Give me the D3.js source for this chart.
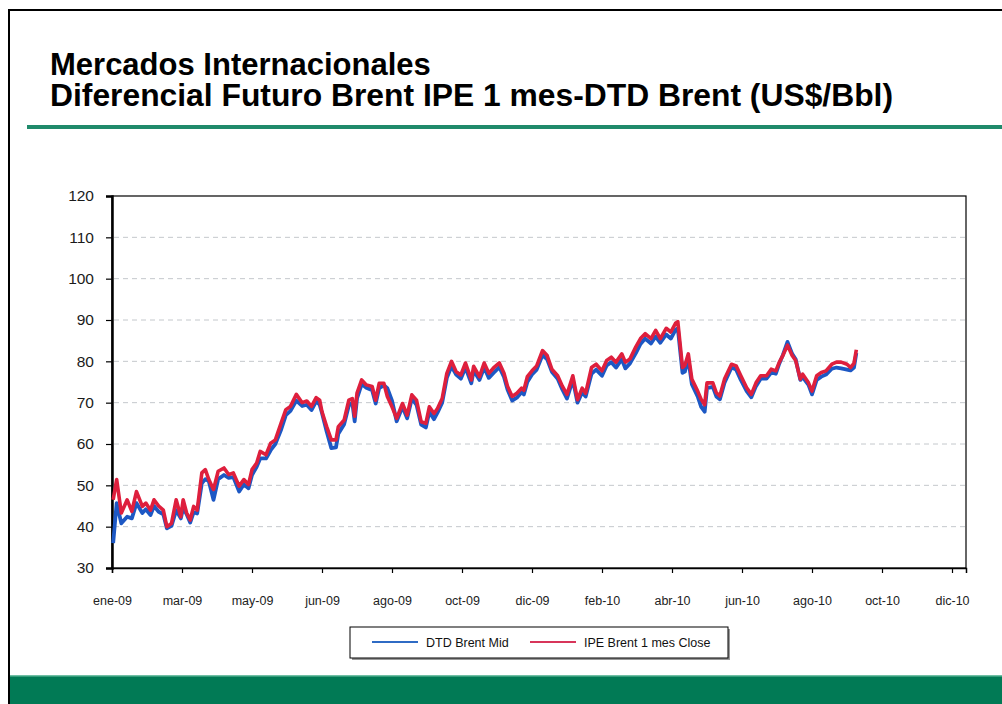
<!DOCTYPE html>
<html>
<head>
<meta charset="utf-8">
<script src="https://cdn.jsdelivr.net/npm/d3@7"></script>
<style>
  body { margin: 0; background: #fff; }
  svg { display: block; font-family: "Liberation Sans", Arial, sans-serif; }
</style>
</head>
<body>
<div id="container"></div>
<script>
//Width and height
var w = 1002;
var h = 704;

//chart data
var dates = ["2009-01-02","2009-01-05","2009-01-09","2009-01-14","2009-01-18","2009-01-22","2009-01-27","2009-01-30",
  "2009-02-03","2009-02-06","2009-02-10","2009-02-14","2009-02-17","2009-02-21","2009-02-25","2009-03-01",
  "2009-03-03","2009-03-06","2009-03-09","2009-03-12","2009-03-15","2009-03-19","2009-03-22","2009-03-25",
  "2009-03-29","2009-04-02","2009-04-07","2009-04-11","2009-04-15","2009-04-20","2009-04-24","2009-04-28",
  "2009-05-01","2009-05-05","2009-05-08","2009-05-13","2009-05-17","2009-05-21","2009-05-26","2009-05-30",
  "2009-06-03","2009-06-08","2009-06-13","2009-06-17","2009-06-21","2009-06-25","2009-06-28","2009-06-30",
  "2009-07-04","2009-07-08","2009-07-12","2009-07-14","2009-07-19","2009-07-23","2009-07-26","2009-07-28",
  "2009-07-30","2009-08-03","2009-08-07","2009-08-12","2009-08-15","2009-08-18","2009-08-22","2009-08-25",
  "2009-08-29","2009-09-02","2009-09-07","2009-09-11","2009-09-15","2009-09-19","2009-09-23","2009-09-27",
  "2009-09-30","2009-10-04","2009-10-07","2009-10-11","2009-10-15","2009-10-19","2009-10-23","2009-10-27",
  "2009-10-31","2009-11-05","2009-11-07","2009-11-12","2009-11-16","2009-11-20","2009-11-24","2009-11-29",
  "2009-12-03","2009-12-06","2009-12-10","2009-12-14","2009-12-18","2009-12-20","2009-12-23","2009-12-27",
  "2009-12-31","2010-01-05","2010-01-09","2010-01-13","2010-01-18","2010-01-22","2010-01-26","2010-01-31",
  "2010-02-04","2010-02-08","2010-02-11","2010-02-16","2010-02-20","2010-02-25","2010-03-01","2010-03-05",
  "2010-03-09","2010-03-14","2010-03-17","2010-03-21","2010-03-26","2010-03-30","2010-04-03","2010-04-08",
  "2010-04-12","2010-04-16","2010-04-21","2010-04-25","2010-04-29","2010-05-01","2010-05-05","2010-05-07",
  "2010-05-10","2010-05-13","2010-05-18","2010-05-21","2010-05-24","2010-05-26","2010-05-31","2010-06-03",
  "2010-06-06","2010-06-10","2010-06-16","2010-06-20","2010-06-24","2010-06-29","2010-07-03","2010-07-07",
  "2010-07-11","2010-07-16","2010-07-20","2010-07-24","2010-07-27","2010-07-30","2010-08-03","2010-08-07",
  "2010-08-10","2010-08-14","2010-08-16","2010-08-21","2010-08-24","2010-08-28","2010-09-01","2010-09-05",
  "2010-09-10","2010-09-14","2010-09-18","2010-09-23","2010-09-26","2010-09-29","2010-10-01"];

var ipeBrent = [46.5,51.4,43.3,46.5,43.7,48.5,44.9,45.7,
  44,46.5,45,44,40,40.8,46.5,42.4,
  46.5,43.3,41.6,44.9,44,53,53.8,51.4,
  49,53.4,54.2,52.6,53,49.8,51.4,50.2,
  53.8,55.4,58.2,57.4,60.2,61,65.1,68.3,
  69.1,72,70,70.4,69.1,71.2,70.6,67.8,
  64.2,61,61,64.2,65.8,70.6,71,66.7,
  72.3,75.5,74.3,73.9,70.6,74.7,74.7,71.5,
  69,66.2,69.8,67,71.9,70.6,65.4,65,
  69,67.4,68.6,71,77.1,80,77.5,76.7,
  79.6,75.5,78.8,76.3,79.6,77.1,78.4,79.6,
  77.1,74,71.5,72.3,73.5,73,76.3,77.7,
  78.9,82.6,81.4,78.1,76.5,74,72,76.5,
  70.7,73.5,72.3,78.5,79.3,77.7,80.2,81,
  79.8,81.8,79.8,80.6,83.5,85.5,86.7,85.5,
  87.5,85.5,88,87.1,89.2,89.6,78.5,79,
  81.8,75.7,72.8,70.8,69.5,74.8,74.8,72.4,
  71.6,75.7,79.3,78.9,76.5,73.6,72,74.8,
  76.5,76.5,78.1,77.7,79.8,81.4,83.9,81.4,
  80.2,75.7,76.9,74.8,72.8,76.5,77.3,77.7,
  79.3,79.8,79.8,79.3,78.5,79.5,82.8];

var dtdBrent = [36,45.7,40.8,42.4,42,45.7,43.3,44.2,
  42.8,45,43.6,43,39.6,40.2,44,42,
  44.5,43,41,43.5,43.2,50.5,51.5,51,
  46.5,51.5,52.5,51.8,52,48.5,50.2,49.3,
  52.5,54.5,56.5,56.5,58.5,60,63.5,67,
  68,70.5,69.2,69.5,68.2,70.3,69.5,67.5,
  63,59,59.2,62.5,64.8,69.3,70,65.5,
  71,74.5,73.6,73,69.8,73.5,74.2,73.5,
  70.5,65.5,69,66.2,71,69.5,64.7,64,
  67.8,66,67.6,70,76,78.8,76.8,75.8,
  78.5,74.7,77.8,75.5,78.5,76,77.2,78.6,
  76.2,73.2,70.5,71.2,72.5,72,75,76.8,
  78,81.5,80.5,77.5,75.8,73.2,71,75.5,
  70,72.5,71.5,77,78,76.5,79,79.8,
  78.5,80.5,78.3,79.5,82,84.2,85.5,84.3,
  86,84.5,86.5,85.5,87.6,88,77.2,77.5,
  80.5,74.5,71.5,69,67.8,73.5,73.8,71.5,
  70.8,74.8,78.5,78,75.5,72.8,71.3,74,
  75.8,75.8,77.3,77,79.5,81.5,84.7,81.8,
  80.5,75.5,76.2,74.3,72,75.5,76.3,76.8,
  78.2,78.5,78.3,78,77.8,78.5,82];

//axis ticks
var yTicks = [30, 40, 50, 60, 70, 80, 90, 100, 110, 120];
var xTickDates = ["2009-01-01","2009-03-02","2009-05-01","2009-06-30","2009-08-29","2009-10-28","2009-12-27",
  "2010-02-25","2010-04-26","2010-06-25","2010-08-24","2010-10-23","2010-12-22"];
var monthNames = ["ene","feb","mar","abr","may","jun","jul","ago","sep","oct","nov","dic"];
var seriesNames = ["DTD Brent Mid", "IPE Brent 1 mes Close"];

var parseDate = d3.timeParse("%Y-%m-%d");
var fmtYear = d3.timeFormat("%y");

var dtdData = dates.map(function(d, i) { return { date: parseDate(d), value: dtdBrent[i] }; });
var ipeData = dates.map(function(d, i) { return { date: parseDate(d), value: ipeBrent[i] }; });

//plot box
var plotL = 112, plotR = 966, plotT = 196, plotB = 568;

var x = d3.scaleTime()
    .domain([parseDate("2009-01-01"), parseDate("2011-01-03")])
    .range([plotL, plotR]);

var y = d3.scaleLinear()
    .domain([30, 120])
    .range([plotB, plotT]);

//create SVG
var svg = d3.select('#container')
    .append('svg')
    .attr('width', w)
    .attr('height', h);

svg.append('rect')
    .attr('width', w)
    .attr('height', h)
    .attr('fill', '#fff');

//page frame (left and top)
svg.append('line')
    .attr('x1', 9).attr('y1', 10).attr('x2', 9).attr('y2', h)
    .attr('stroke', '#000').attr('stroke-width', 2);
svg.append('line')
    .attr('x1', 8).attr('y1', 10).attr('x2', w).attr('y2', 10)
    .attr('stroke', '#000').attr('stroke-width', 2);

//title
svg.append('text')
    .attr('x', 50).attr('y', 75)
    .style('font-size', '31px').style('font-weight', 'bold')
    .attr('fill', '#000')
    .text('Mercados Internacionales');
svg.append('text')
    .attr('x', 50).attr('y', 106)
    .style('font-size', '31px').style('font-weight', 'bold')
    .attr('fill', '#000')
    .attr('textLength', 843)
    .attr('lengthAdjust', 'spacingAndGlyphs')
    .text('Diferencial Futuro Brent IPE 1 mes-DTD Brent (US$/Bbl)');

//green rule under title
svg.append('rect')
    .attr('x', 27).attr('y', 125)
    .attr('width', w - 27).attr('height', 4)
    .attr('fill', '#1f8a6b');

//bottom green band
svg.append('rect')
    .attr('x', 10).attr('y', 676)
    .attr('width', w - 10).attr('height', h - 676)
    .attr('fill', '#017a55');
svg.append('rect')
    .attr('x', 10).attr('y', 675)
    .attr('width', w - 10).attr('height', 1.5)
    .attr('fill', '#6fbfa4');

//gridlines
svg.append('g')
    .selectAll('line')
    .data(yTicks.filter(function(d) { return d > 30 && d < 120; }))
    .enter()
    .append('line')
    .attr('x1', plotL + 2)
    .attr('x2', plotR)
    .attr('y1', function(d) { return y(d); })
    .attr('y2', function(d) { return y(d); })
    .attr('stroke', '#c4c8cc')
    .attr('stroke-width', 1)
    .attr('stroke-dasharray', '5,4');

//plot border
svg.append('rect')
    .attr('x', plotL).attr('y', plotT)
    .attr('width', plotR - plotL).attr('height', plotB - plotT)
    .attr('fill', 'none')
    .attr('stroke', '#000')
    .attr('stroke-width', 1.2);

//y axis
var yAxis = svg.append('g')
    .attr('transform', 'translate(' + plotL + ',0)')
    .call(d3.axisLeft(y).tickValues(yTicks).tickSize(6).tickPadding(12));
yAxis.select('.domain').attr('stroke', '#000').attr('stroke-width', 2.5);
yAxis.selectAll('.tick line').attr('stroke', '#000').attr('stroke-width', 1.2);
yAxis.selectAll('text')
    .style('font-family', '"Liberation Sans", Arial, sans-serif')
    .style('font-size', '15.5px')
    .attr('fill', '#1a1a1a');

//x axis
var xAxis = svg.append('g')
    .attr('transform', 'translate(0,' + plotB + ')')
    .call(d3.axisBottom(x)
        .tickValues(xTickDates.map(parseDate))
        .tickSize(5)
        .tickPadding(23)
        .tickFormat(function(d) { return monthNames[d.getMonth()] + '-' + fmtYear(d); }));
xAxis.select('.domain').attr('stroke', '#000').attr('stroke-width', 1.5);
xAxis.selectAll('.tick line').attr('stroke', '#000').attr('stroke-width', 1.2);
xAxis.selectAll('text')
    .style('font-family', '"Liberation Sans", Arial, sans-serif')
    .style('font-size', '12.5px')
    .attr('fill', '#222');

//define lines
var line = d3.line()
    .x(function(d) { return x(d.date); })
    .y(function(d) { return y(d.value); });

svg.append('path')
    .datum(dtdData)
    .attr('fill', 'none')
    .attr('stroke', '#1d58c4')
    .attr('stroke-width', 3.8)
    .attr('stroke-linejoin', 'round')
    .attr('d', line);

svg.append('path')
    .datum(ipeData)
    .attr('fill', 'none')
    .attr('stroke', '#de1f3d')
    .attr('stroke-width', 3.6)
    .attr('stroke-linejoin', 'round')
    .attr('d', line);

//legend
var legend = svg.append('g');
legend.append('rect')
    .attr('x', 352).attr('y', 629)
    .attr('width', 378).attr('height', 31)
    .attr('fill', '#999');
legend.append('rect')
    .attr('x', 350).attr('y', 627)
    .attr('width', 378).attr('height', 31)
    .attr('fill', '#fff')
    .attr('stroke', '#000')
    .attr('stroke-width', 1);

var legendItems = [
    { name: seriesNames[0], color: '#2f6bc4', x0: 372 },
    { name: seriesNames[1], color: '#d8355a', x0: 530 }
];
legend.selectAll('line.key')
    .data(legendItems)
    .enter()
    .append('line')
    .attr('x1', function(d) { return d.x0; })
    .attr('x2', function(d) { return d.x0 + 46; })
    .attr('y1', 642).attr('y2', 642)
    .attr('stroke', function(d) { return d.color; })
    .attr('stroke-width', 2);
legend.selectAll('text')
    .data(legendItems)
    .enter()
    .append('text')
    .attr('x', function(d) { return d.x0 + 54; })
    .attr('y', 646.5)
    .style('font-size', '12.5px')
    .attr('fill', '#111')
    .text(function(d) { return d.name; });
</script>
</body>
</html>
